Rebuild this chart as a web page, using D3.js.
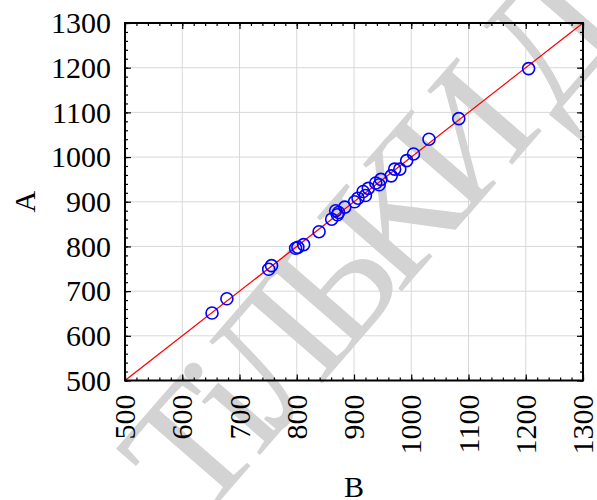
<!DOCTYPE html>
<html>
<head>
<meta charset="utf-8">
<script src="https://cdn.jsdelivr.net/npm/d3@7"></script>
<style>
  html, body { margin: 0; padding: 0; background: #fff; }
  svg { display: block; }
  text { font-family: "Liberation Serif", "Times New Roman", serif; }
</style>
</head>
<body>
<svg id="chart" width="597" height="500"></svg>
<script>
// Observed B (horizontal) and A (vertical) values
const valuesB = [652, 678, 751, 756, 798, 802, 812, 839, 861, 868, 871, 873, 884, 901, 907, 916, 920, 925, 938, 944, 947, 965, 971, 980, 992, 1004, 1031, 1083, 1205];
const valuesA = [651, 683, 749, 757, 796, 798, 804, 833, 861, 880, 871, 876, 888, 900, 908, 923, 914, 930, 942, 938, 950, 958, 973, 973, 992, 1007, 1040, 1086, 1198];
const tickValues = [500, 600, 700, 800, 900, 1000, 1100, 1200, 1300];
const axisLabelX = "B";
const axisLabelY = "A";
const watermarkText = "ТіЛЬКИ ДЛЯ";

const svg = d3.select("#chart");
const W = 597, H = 500;
const m = { left: 125, top: 23, right: 14, bottom: 119.5 };
const iw = W - m.left - m.right, ih = H - m.top - m.bottom;

const x = d3.scaleLinear().domain([500, 1300]).range([m.left, m.left + iw]);
const y = d3.scaleLinear().domain([500, 1300]).range([m.top + ih, m.top]);

// grid
const grid = svg.append("g").attr("stroke", "#d8d8d8").attr("stroke-width", 1);
tickValues.slice(1, -1).forEach(v => {
  grid.append("line").attr("x1", x(v)).attr("x2", x(v)).attr("y1", m.top).attr("y2", m.top + ih);
  grid.append("line").attr("y1", y(v)).attr("y2", y(v)).attr("x1", m.left).attr("x2", m.left + iw);
});

// watermark
svg.append("text")
  .attr("transform", "translate(199,525) rotate(-49)")
  .attr("font-size", 172)
  .attr("letter-spacing", -16)
  .attr("fill", "#d3d3d3")
  .text(watermarkText);

// identity line
svg.append("line")
  .attr("x1", x(500)).attr("y1", y(500))
  .attr("x2", x(1300)).attr("y2", y(1300))
  .attr("stroke", "#ff0000").attr("stroke-width", 1.3);

// points
svg.append("g").selectAll("circle")
  .data(valuesB.map((b, i) => [b, valuesA[i]]))
  .join("circle")
  .attr("cx", d => x(d[0])).attr("cy", d => y(d[1]))
  .attr("r", 6)
  .attr("fill", "none").attr("stroke", "#0000ff").attr("stroke-width", 1.6);

// axes with inward ticks on all four sides
const minor = d3.range(500, 1301, 20);
function tickAxis(axisGen, tx, ty) {
  const g = svg.append("g").attr("transform", `translate(${tx},${ty})`).call(axisGen);
  g.select(".domain").remove();
  g.selectAll("text").remove();
  g.selectAll("line").attr("stroke", "#000").attr("stroke-width", 1.2);
  return g;
}
const bottomY = m.top + ih, rightX = m.left + iw;
tickAxis(d3.axisBottom(x).tickValues(minor).tickSize(-3), 0, bottomY);
tickAxis(d3.axisBottom(x).tickValues(tickValues).tickSize(-6), 0, bottomY);
tickAxis(d3.axisTop(x).tickValues(minor).tickSize(-3), 0, m.top);
tickAxis(d3.axisTop(x).tickValues(tickValues).tickSize(-6), 0, m.top);
tickAxis(d3.axisLeft(y).tickValues(minor).tickSize(-3), m.left, 0);
tickAxis(d3.axisLeft(y).tickValues(tickValues).tickSize(-6), m.left, 0);
tickAxis(d3.axisRight(y).tickValues(minor).tickSize(-3), rightX, 0);
tickAxis(d3.axisRight(y).tickValues(tickValues).tickSize(-6), rightX, 0);

// frame
svg.append("rect")
  .attr("x", m.left).attr("y", m.top).attr("width", iw).attr("height", ih)
  .attr("fill", "none").attr("stroke", "#000").attr("stroke-width", 2);

// tick labels
svg.append("g").selectAll("text")
  .data(tickValues).join("text")
  .attr("x", m.left - 14).attr("y", d => y(d))
  .attr("dy", "0.34em")
  .attr("text-anchor", "end")
  .attr("font-size", 30)
  .text(d => d);

svg.append("g").selectAll("text")
  .data(tickValues).join("text")
  .attr("transform", d => `translate(${x(d)},${bottomY + 14}) rotate(-90)`)
  .attr("dy", "0.34em")
  .attr("text-anchor", "end")
  .attr("font-size", 30)
  .text(d => d);

// axis titles
svg.append("text")
  .attr("x", (m.left + rightX) / 2).attr("y", 497)
  .attr("text-anchor", "middle").attr("font-size", 30)
  .text(axisLabelX);

svg.append("text")
  .attr("transform", `translate(25,${(m.top + bottomY) / 2}) rotate(-90)`)
  .attr("dy", "0.34em")
  .attr("text-anchor", "middle").attr("font-size", 30)
  .text(axisLabelY);
</script>
</body>
</html>
